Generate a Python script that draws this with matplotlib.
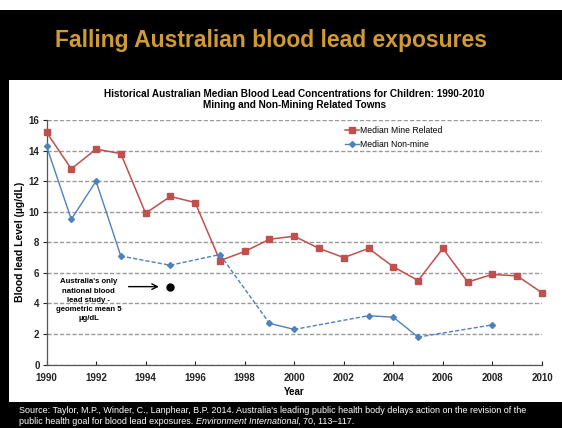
import matplotlib
matplotlib.use("Agg")
import matplotlib.pyplot as plt
from matplotlib.patches import Rectangle
from matplotlib.lines import Line2D

plt.rcParams['font.family'] = ['Liberation Sans', 'DejaVu Sans']

mine_years = [1990, 1991, 1992, 1993, 1994, 1995, 1996, 1997, 1998, 1999, 2000,
              2001, 2002, 2003, 2004, 2005, 2006, 2007, 2008, 2009, 2010]
mine_values = [15.2, 12.8, 14.1, 13.8, 9.9, 11.0, 10.6, 6.8, 7.4, 8.2, 8.4,
               7.6, 7.0, 7.6, 6.4, 5.5, 7.6, 5.4, 5.9, 5.8, 4.7]
nonmine_years = [1990, 1991, 1992, 1993, 1995, 1997, 1999, 2000, 2003, 2004, 2005, 2008]
nonmine_values = [14.3, 9.5, 12.0, 7.1, 6.5, 7.2, 2.7, 2.3, 3.2, 3.1, 1.8, 2.6]
national_year = [1995]
national_value = [5.1]
x_ticks = list(range(1990, 2011, 2))
y_ticks = list(range(0, 17, 2))

W, H = 562, 428
fig = plt.figure(figsize=(W / 100, H / 100), dpi=100)
fig.patch.set_facecolor('white')

def px_rect(x0, y0, x1, y1, color):
    fig.patches.append(Rectangle((x0 / W, 1 - y1 / H), (x1 - x0) / W, (y1 - y0) / H,
                                 transform=fig.transFigure, facecolor=color,
                                 edgecolor='none', zorder=0))

px_rect(0, 10, W, 80, 'black')
px_rect(0, 80, 9, 402, 'black')
px_rect(0, 402, W, H, 'black')

fig.text(271 / W, 1 - 40 / H, 'Falling Australian blood lead exposures', color='#D09A35',
         fontsize=16.5, fontweight='bold', ha='center', va='center')

fs_src = 6.5
fig.text(19 / W, 1 - 413 / H,
         "Source: Taylor, M.P., Winder, C., Lanphear, B.P. 2014. Australia's leading public health body delays action on the revision of the",
         color='white', fontsize=fs_src, ha='left', va='baseline')
t1 = fig.text(19 / W, 1 - 424 / H, "public health goal for blood lead exposures. ",
              color='white', fontsize=fs_src, ha='left', va='baseline')
t2 = fig.text(0, 0, "Environment International", color='white', fontsize=fs_src,
              fontstyle='italic', ha='left', va='baseline')
t3 = fig.text(0, 0, ", 70, 113\u2013117.", color='white', fontsize=fs_src,
              ha='left', va='baseline')
fig.canvas.draw()
r = fig.canvas.get_renderer()
bb1 = t1.get_window_extent(r)
t2.set_position((bb1.x1 / fig.bbox.width, 1 - 424 / H))
fig.canvas.draw()
bb2 = t2.get_window_extent(r)
t3.set_position((bb2.x1 / fig.bbox.width, 1 - 424 / H))

left, right, top, bottom = 46.5, 542, 120, 364.6
ax = fig.add_axes([left / W, 1 - bottom / H, (right - left) / W, (bottom - top) / H])
ax.set_xlim(1990, 2010)
ax.set_ylim(0, 16)
ax.set_xticks(x_ticks)
ax.set_yticks(y_ticks)
for t in ax.get_xticklabels() + ax.get_yticklabels():
    t.set_fontweight('bold')
ax.tick_params(axis='both', labelsize=7, colors='#222222', length=3, width=0.8)
ax.tick_params(axis='x', direction='in', pad=6)
ax.tick_params(axis='y', direction='out', pad=2)
for s in ['top', 'right']:
    ax.spines[s].set_visible(False)
for s in ['left', 'bottom']:
    ax.spines[s].set_color('#555555')
    ax.spines[s].set_linewidth(0.9)
ax.yaxis.grid(True, linestyle=(0, (3, 1.5)), color='#999999', linewidth=1.0)
ax.set_axisbelow(True)

red = '#C0504D'
blue = '#4F81BD'

ax.plot(mine_years, mine_values, color=red, linewidth=1.1, marker='s', markersize=5,
        zorder=3, clip_on=False)

for i in range(len(nonmine_years) - 1):
    xs = nonmine_years[i:i + 2]
    ys = nonmine_values[i:i + 2]
    ls = '-' if xs[1] - xs[0] == 1 else (0, (3, 1.5))
    ax.plot(xs, ys, color=blue, linewidth=1.0, linestyle=ls, zorder=3)
ax.plot(nonmine_years, nonmine_values, linestyle='none', marker='D', markersize=3,
        color=blue, zorder=4, clip_on=False)

ax.plot(national_year, national_value, 'o', color='black', markersize=5, zorder=5)
ax.annotate('', xy=(1994.65, 5.1), xytext=(1993.2, 5.1),
            arrowprops=dict(arrowstyle='->', color='black', lw=1.0))
ax.text(1991.7, 4.2, "Australia's only\nnational blood\nlead study -\ngeometric mean 5\n\u00b5g/dL",
        fontsize=5.6, fontweight='bold', ha='center', va='center', linespacing=1.45)

ax.set_xlabel('Year', fontsize=7, fontweight='bold', labelpad=3)
ax.set_ylabel('Blood lead Level (\u00b5g/dL)', fontsize=7.5, fontweight='bold', labelpad=3)

ax.text(0.5, 1.0 + 31 / (bottom - top),
        'Historical Australian Median Blood Lead Concentrations for Children: 1990-2010\nMining and Non-Mining Related Towns',
        transform=ax.transAxes, fontsize=7.2, fontweight='bold', ha='center', va='top',
        linespacing=1.15)

handles = [Line2D([], [], color=red, marker='s', markersize=5, linewidth=1.1),
           Line2D([], [], color=blue, marker='D', markersize=3, linewidth=1.0)]
leg = ax.legend(handles, ['Median Mine Related', 'Median Non-mine'], loc='upper left',
                bbox_to_anchor=(0.595, 0.99), frameon=False, fontsize=6.2,
                handlelength=1.6, handletextpad=0.2, labelspacing=0.55, borderaxespad=0)

fig.savefig('out.png', dpi=100)
